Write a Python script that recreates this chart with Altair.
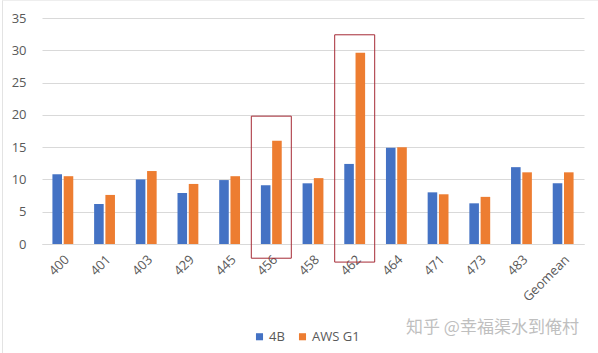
import altair as alt
import pandas as pd

categories = ["400", "401", "403", "429", "445", "456", "458", "462", "464", "471", "473", "483", "Geomean"]
s_4b = [10.8, 6.2, 10.0, 7.9, 9.9, 9.1, 9.4, 12.4, 14.9, 8.0, 6.3, 11.9, 9.4]
s_aws = [10.5, 7.6, 11.3, 9.3, 10.5, 16.0, 10.2, 29.6, 15.0, 7.7, 7.3, 11.1, 11.1]
series = ["4B", "AWS G1"]
y_ticks = [0, 5, 10, 15, 20, 25, 30, 35]

box_cats = ["456", "462"]
box_low = [-2.2, -2.8]
box_high = [19.8, 32.4]

rows = []
for c, a, b in zip(categories, s_4b, s_aws):
    rows.append({"cat": c, "series": "4B", "value": a})
    rows.append({"cat": c, "series": "AWS G1", "value": b})
df = pd.DataFrame(rows)
boxes = pd.DataFrame({"cat": box_cats, "lo": box_low, "hi": box_high})

FONT = "Open Sans"
xscale = alt.Scale(domain=categories, paddingInner=0.5, paddingOuter=0.25)
yscale = alt.Scale(domain=[0, 35], nice=False, zero=True)
xaxis = alt.Axis(title=None, labelAngle=-45, labelAlign="right", labelBaseline="top",
                 ticks=False, domainColor="#D9D9D9", labelColor="#595959",
                 labelFontSize=13, labelPadding=9, labelFont=FONT, grid=False,
                 labelOverlap=False)
yaxis = alt.Axis(title=None, values=y_ticks, ticks=False, domain=False,
                 gridColor="#D9D9D9", labelColor="#595959", labelFontSize=13,
                 labelPadding=16, labelFont=FONT, labelOverlap=False)

bars = alt.Chart(df).mark_bar().encode(
    x=alt.X("cat:N", scale=xscale, sort=categories, axis=xaxis),
    xOffset=alt.XOffset("series:N", scale=alt.Scale(domain=series, paddingInner=0.15)),
    y=alt.Y("value:Q", scale=yscale, axis=yaxis),
    color=alt.Color("series:N", scale=alt.Scale(domain=series, range=["#4472C4", "#ED7D31"]),
                    legend=alt.Legend(title=None, orient="none", direction="horizontal",
                                      legendX=211, legendY=312, symbolType="square", symbolSize=50,
                                      labelFontSize=13, labelColor="#595959", labelFont=FONT,
                                      symbolStrokeWidth=0, columnPadding=11, labelOffset=3)),
)

rects = alt.Chart(boxes).mark_bar(fill="transparent", stroke="#A52A35", strokeWidth=1, width=40).encode(
    x=alt.X("cat:N", scale=xscale, sort=categories, axis=xaxis),
    y=alt.Y("lo:Q", scale=yscale, axis=yaxis),
    y2="hi:Q",
)

wm = alt.Chart(pd.DataFrame({"t": ["知乎 @幸福渠水到俺村"]})).mark_text(
    font="Noto Sans CJK SC", fontSize=17, color="#BFBFBF", align="left", baseline="middle"
).encode(text="t:N", x=alt.value(364), y=alt.value(310))

frame_left = alt.Chart(pd.DataFrame({"k": [0]})).mark_rule(color="#E3E3E3", strokeWidth=1).encode(
    x=alt.value(-39.5), y=alt.value(-18), y2=alt.value(335))
frame_top = alt.Chart(pd.DataFrame({"k": [0]})).mark_rule(color="#EEEEEE", strokeWidth=1).encode(
    x=alt.value(-39.5), x2=alt.value(556), y=alt.value(-17.5))

chart = alt.layer(bars, rects, wm, frame_left, frame_top).properties(
    width=542, height=226,
    autosize=alt.AutoSizeParams(type="none"),
    padding={"left": 42, "top": 18, "right": 14, "bottom": 109},
    background="white",
).configure_view(stroke=None)

chart.save("out.html", embed_options={"renderer": "svg", "actions": False})
